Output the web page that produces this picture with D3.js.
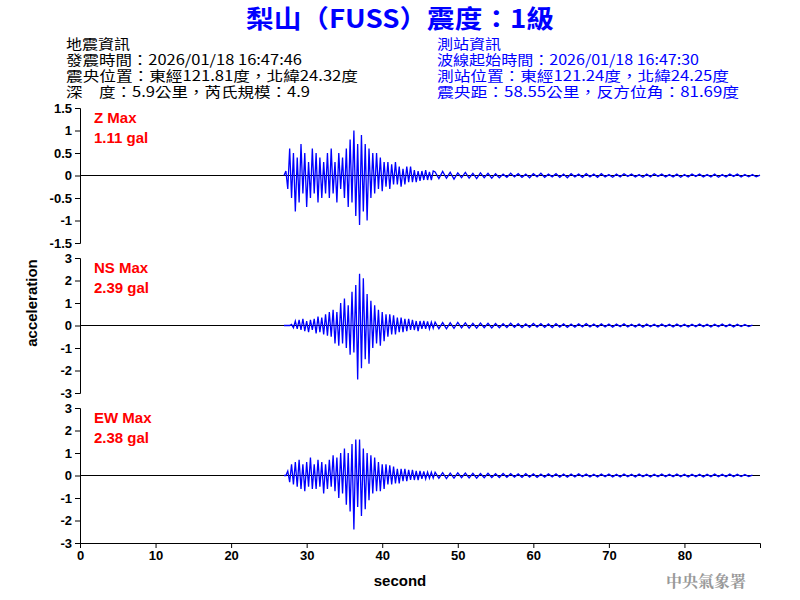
<!DOCTYPE html>
<html><head><meta charset="utf-8">
<script src="https://d3js.org/d3.v7.min.js"></script>
<style>body{margin:0;background:#fff}</style></head>
<body><svg id="c" width="800" height="600"></svg>
<script>
// ---- data ----
const components = ["Z", "NS", "EW"];
const maxLabels = ["1.11 gal", "2.39 gal", "2.38 gal"];
const yTicksZ = [1.5, 1, 0.5, 0, -0.5, -1, -1.5];
const yTicksH = [3, 2, 1, 0, -1, -2, -3];
const xTicks = [0, 10, 20, 30, 40, 50, 60, 70, 80];
const mainStart = 27, mainStep = 0.25;   // 27–47 s
const tailStart = 47, tailStep = 0.5;    // 47–90 s
const zMain = [0,0.1,-0.3,0.6,-0.5,0.5,-0.8,0.4, -0.6,0.7,-0.4,0.5,-0.7,0.3,-0.5,0.6, -0.4,0.5,-0.6,0.4,-0.5,0.3,-0.4,0.5, -0.5,0.6,-0.4,0.3,-0.6,0.5,-0.3,0.4, -0.5,0.6,-0.7,0.8,-0.6,1.0,-0.9,0.7, -1.1,0.9,-0.8,0.7,-1.0,0.6,-0.5,0.5, -0.4,0.5,-0.3,0.4,-0.35,0.3,-0.25,0.3, -0.3,0.25,-0.2,0.3,-0.2,0.2,-0.25,0.15, -0.2,0.2,-0.15,0.2,-0.15,0.12,-0.15,0.1, -0.12,0.1,-0.1,0.12,-0.1,0.08,-0.1,0.1];
const zTail = [0.08,-0.07,0.09,-0.06,0.07,-0.08,0.06,-0.05,0.07,-0.06,0.05,-0.07,0.06,-0.05,0.05,-0.06, 0.04,-0.05,0.03,-0.04,0.05,-0.03,0.04,-0.04,0.03,-0.05,0.04,-0.03,0.05,-0.04,0.03,-0.03,0.04,-0.04,0.03,-0.05, 0.04,-0.03,0.03,-0.04,0.04,-0.03,0.03,-0.04,0.04,-0.03,0.02,-0.04,0.03,-0.03,0.04,-0.02,0.03,-0.03,0.02,-0.04, 0.03,-0.03,0.04,-0.02,0.03,-0.03,0.02,-0.03,0.03,-0.04,0.02,-0.03,0.03,-0.02,0.03,-0.03,0.02,-0.03,0.03,-0.04,0.02,-0.03,0.03,-0.02,0.03,-0.03,0.02,-0.03,0.02,-0.03,0.01];
const nsMain = [0,0,0,0,0.05,-0.1,0.2,-0.15, 0.25,-0.2,0.3,-0.25,0.2,-0.3,0.25,-0.2, 0.3,-0.35,0.4,-0.3,0.35,-0.4,0.5,-0.45, 0.6,-0.5,0.7,-0.8,0.6,-0.9,1.0,-0.8, 1.2,-1.0,0.9,-1.3,1.5,-1.2,1.8,-2.4, 2.3,-1.9,2.1,-1.5,1.4,-1.7,1.1,-1.0, 0.9,-0.8,0.7,-0.9,0.6,-0.7,0.5,-0.5, 0.5,-0.4,0.45,-0.4,0.35,-0.3,0.35,-0.3, 0.3,-0.25,0.3,-0.2,0.25,-0.2,0.2,-0.25, 0.2,-0.15,0.2,-0.15,0.18,-0.15,0.15,-0.12];
const nsTail = [0.15,-0.14,0.13,-0.15,0.12,-0.13,0.14,-0.11,0.12,-0.12,0.1,-0.12,0.11,-0.1,0.1,-0.11, 0.09,-0.1,0.08,-0.09,0.1,-0.08,0.08,-0.09,0.07,-0.08,0.09,-0.07,0.08,-0.08,0.07,-0.09,0.08,-0.07,0.07,-0.08, 0.06,-0.07,0.07,-0.06,0.08,-0.06,0.06,-0.07,0.07,-0.06,0.06,-0.07,0.06,-0.05,0.07,-0.06,0.05,-0.06,0.06,-0.07, 0.06,-0.05,0.05,-0.06,0.06,-0.05,0.05,-0.06,0.06,-0.05,0.05,-0.06,0.05,-0.05,0.06,-0.05,0.05,-0.06,0.05,-0.05,0.06,-0.05,0.05,-0.06,0.05,-0.05,0.04,-0.05,0.02];
const ewMain = [0,0,0.2,-0.3,0.5,-0.4,0.6,-0.5, 0.7,-0.6,0.5,-0.7,0.6,-0.5,0.8,-0.6, 0.5,-0.6,0.7,-0.5,0.6,-0.8,0.5,-0.6, 0.7,-0.5,0.9,-0.7,0.8,-1.0,1.0,-0.8, 1.2,-1.3,1.0,-1.6,1.4,-2.4,1.6,-1.4, 1.6,-1.8,1.2,-1.5,1.0,-1.1,0.9,-0.8, 0.8,-0.7,0.6,-0.7,0.5,-0.6,0.5,-0.4, 0.45,-0.4,0.4,-0.35,0.3,-0.35,0.3,-0.25, 0.3,-0.25,0.25,-0.2,0.25,-0.2,0.2,-0.2, 0.2,-0.15,0.18,-0.15,0.15,-0.12,0.15,-0.12];
const ewTail = [0.14,-0.12,0.13,-0.14,0.11,-0.12,0.12,-0.1,0.11,-0.11,0.1,-0.12,0.09,-0.1,0.1,-0.09, 0.08,-0.09,0.09,-0.08,0.08,-0.07,0.07,-0.08,0.08,-0.07,0.07,-0.08,0.06,-0.07,0.07,-0.06,0.07,-0.07,0.06,-0.07, 0.06,-0.06,0.07,-0.05,0.06,-0.06,0.05,-0.06,0.06,-0.05,0.06,-0.06,0.05,-0.06,0.06,-0.05,0.05,-0.06,0.06,-0.05, 0.05,-0.06,0.05,-0.05,0.06,-0.05,0.05,-0.05,0.06,-0.05,0.05,-0.06,0.05,-0.05,0.05,-0.06,0.05,-0.05,0.06,-0.05,0.05,-0.05,0.06,-0.05,0.05,-0.05,0.04,-0.05,0.02];
const title = "梨山（FUSS）震度：1級";
const leftInfo = ["地震資訊","發震時間：2026/01/18 16:47:46","震央位置：東經121.81度，北緯24.32度","深　度：5.9公里，芮氏規模：4.9"];
const rightInfo = ["測站資訊","波線起始時間：2026/01/18 16:47:30","測站位置：東經121.24度，北緯24.25度","震央距：58.55公里，反方位角：81.69度"];

// ---- drawing ----
const svg = d3.select("#c");
const cjk = "'Noto Sans CJK TC', sans-serif";
const lat = "'Liberation Sans', Arial, sans-serif";
const x = d3.scaleLinear().domain([0, 90]).range([80, 760]);
const series = [[zMain, zTail], [nsMain, nsTail], [ewMain, ewTail]];
const domains = [[-1.5, 1.5], [-3, 3], [-3, 3]];
const tickSets = [yTicksZ, yTicksH, yTicksH];

svg.append("text").attr("x", 400).attr("y", 28).attr("text-anchor", "middle")
  .attr("fill", "#0000ff").attr("font-family", cjk).attr("font-weight", "bold")
  .attr("font-size", 25).attr("textLength", 308).attr("lengthAdjust", "spacingAndGlyphs").text(title);
const infoLen = [[64, 236, 292, 244], [64, 262, 292, 302]];
leftInfo.forEach((t, i) => svg.append("text").attr("x", 66).attr("y", 49 + i * 16)
  .attr("font-family", cjk).attr("font-size", 14).attr("fill", "#000")
  .attr("textLength", infoLen[0][i]).attr("lengthAdjust", "spacingAndGlyphs").text(t));
rightInfo.forEach((t, i) => svg.append("text").attr("x", 437).attr("y", 49 + i * 16)
  .attr("font-family", cjk).attr("font-size", 14).attr("fill", "#0000ff")
  .attr("textLength", infoLen[1][i]).attr("lengthAdjust", "spacingAndGlyphs").text(t));

components.forEach((c, k) => {
  const top = 108 + k * 150;
  const y = d3.scaleLinear().domain(domains[k]).range([top + 135, top]);
  const g = svg.append("g");
  const ax = g.append("g").attr("transform", "translate(80,0)")
    .call(d3.axisLeft(y).tickValues(tickSets[k]).tickSize(5).tickFormat(d => d));
  ax.selectAll("text").attr("font-family", lat).attr("font-size", 13).attr("font-weight", "bold").attr("fill", "#000");
  ax.selectAll("line,path").attr("stroke", "#000");
  g.append("line").attr("x1", x(0)).attr("x2", x(90)).attr("y1", y(0)).attr("y2", y(0)).attr("stroke", "#000");
  const [m, t] = series[k];
  const pts = m.map((v, i) => [mainStart + i * mainStep, v])
    .concat(t.map((v, i) => [tailStart + i * tailStep, v]));
  g.append("path").attr("d", d3.line().x(d => x(d[0])).y(d => y(d[1]))(pts))
    .attr("fill", "none").attr("stroke", "#0000ff").attr("stroke-width", 1.3);
  g.append("text").attr("x", 94).attr("y", top + 15).attr("fill", "#ff0000")
    .attr("font-family", lat).attr("font-size", 15).attr("font-weight", "bold").text(c + " Max");
  g.append("text").attr("x", 94).attr("y", top + 35).attr("fill", "#ff0000")
    .attr("font-family", lat).attr("font-size", 15).attr("font-weight", "bold").text(maxLabels[k]);
});

const xa = svg.append("g").attr("transform", "translate(0,543)")
  .call(d3.axisBottom(x).tickValues(xTicks).tickSize(5));
xa.selectAll("text").attr("font-family", lat).attr("font-size", 13).attr("font-weight", "bold").attr("fill", "#000");
xa.selectAll("line,path").attr("stroke", "#000");
svg.append("text").attr("x", 400).attr("y", 586).attr("text-anchor", "middle")
  .attr("font-family", lat).attr("font-weight", "bold").attr("font-size", 15).text("second");
svg.append("text").attr("transform", "translate(37,303) rotate(-90)").attr("text-anchor", "middle")
  .attr("font-family", lat).attr("font-weight", "bold").attr("font-size", 15).text("acceleration");
svg.append("text").attr("x", 746).attr("y", 587).attr("text-anchor", "end")
  .attr("font-family", "'Noto Serif CJK TC', " + cjk).attr("font-weight", "bold")
  .attr("font-size", 16).attr("fill", "#999").text("中央氣象署");
</script></body></html>
